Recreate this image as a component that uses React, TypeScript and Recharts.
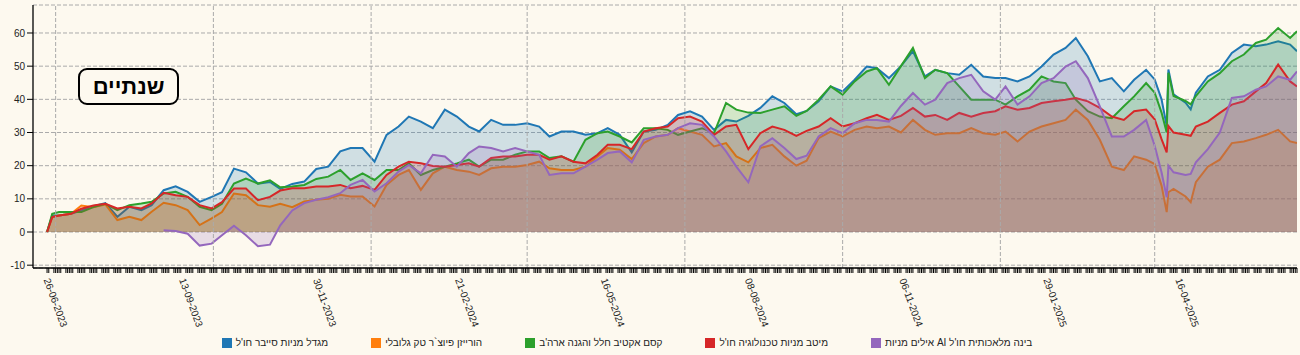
import React from "react";
import {
  AreaChart,
  Area,
  XAxis,
  YAxis,
  CartesianGrid,
  Legend,
  ReferenceLine,
} from "recharts";

// x = days since 21-06-2023 (first NAV date)
const days = [
  0, 3, 7, 14, 20, 27, 34, 41, 48, 55, 61, 68, 75, 82, 89, 96, 102, 109, 116, 123, 130,
  136, 143, 150, 157, 164, 171, 177, 184, 191, 198, 205, 211, 218, 225, 232, 239, 246,
  252, 259, 266, 273, 280, 287, 293, 300, 307, 314, 321, 327, 334, 341, 348, 355, 362,
  368, 375, 382, 389, 396, 402, 409, 416, 423, 430, 437, 443, 450, 457, 464, 471, 478,
  484, 491, 498, 505, 512, 518, 525, 532, 539, 546, 553, 559, 566, 573, 580, 587, 594,
  600, 607, 614, 621, 628, 634, 641, 646, 650, 653, 654, 657, 664, 667, 670, 677, 684,
  691, 698, 705, 711, 718, 725, 729,
];

// % return since start
const migdalCyber = [
  0, 5, 5, 5.5, 6.5, 7.8, 8.7, 4.6, 7.6, 6.6, 8.1, 12.6, 13.8, 12.1, 9.1, 10.6, 12, 19.1, 18, 14.6, 15.1,
  13, 14.5, 15.2, 19, 19.7, 24.3, 25.3, 25.3, 21.2, 29.3, 31.8, 34.8, 33.3, 31.3, 36.9, 34.8, 31.8,
  30.3, 33.8, 32.3, 32.3, 32.8, 31.8, 28.8, 30.3, 30.3, 29.3, 29.8, 31.3, 29.3, 24, 30.3, 30.8, 32.3,
  35.3, 36.4, 34.8, 30.8, 33.8, 33.3, 35, 37.4, 40.9, 38.9, 35.5, 36.5, 39.4, 43.9, 42.4, 45.9, 49.9,
  49.4, 46.4, 50, 54.5, 46.9, 48.9, 47.9, 47.4, 50.4, 46.9, 46.4, 46.4, 45.4, 46.9, 49.9, 53.5, 55.5,
  58.5, 53, 45.4, 46.4, 42.4, 45.9, 48.9, 46, 40, 32, 49, 41.5, 39, 37, 42, 46.9, 48.9,
  54, 56.5, 56, 56.5, 57.5, 56.5, 54.5,
];
const horizonTech = [
  0, 4.5, 5, 5.5, 8, 7.5, 8.3, 3.6, 4.6, 3.6, 6.1, 8.8, 8.1, 6.6, 2.1, 4.1, 6, 11.6, 11.1, 8.1, 7.6,
  8.5, 7.5, 9.2, 9.7, 10, 11.2, 10.7, 10.7, 7.7, 14.2, 17.2, 18.7, 12.7, 17.7, 19.7, 18.7, 18.2,
  17.2, 19.2, 19.7, 19.7, 20.2, 21.2, 19.2, 18.7, 18.7, 19.7, 22.8, 25.3, 24.8, 22, 26.8, 28.8, 29.3,
  31.3, 30.3, 29.3, 25.8, 26.8, 22.8, 21, 25.3, 26.3, 22.8, 20, 21.5, 28.3, 30.3, 28.8, 30.8, 31.8,
  31.3, 31.8, 30, 33.8, 30.8, 29.3, 29.8, 29.8, 31.3, 29.8, 29.3, 30.3, 27.3, 30.3, 31.8, 32.8, 33.8,
  36.9, 33.8, 27.8, 19.7, 18.7, 22.8, 21.8, 20.5, 14, 6, 12, 13, 10.7, 9, 15, 19.7, 21.8,
  26.8, 27.3, 28.3, 29.3, 30.8, 27.3, 26.8,
];
const kesemSpace = [
  0, 5.5, 6, 6, 6, 7.5, 8.5, 6.6, 8.1, 8.6, 9.1, 11.6, 12.1, 10.6, 7.6, 6.6, 8.5, 14.6, 16.1, 14.6, 15.6,
  13.5, 13.7, 14.2, 16, 16.7, 18.7, 15.7, 17.7, 15.7, 18.7, 18.7, 20.7, 17.2, 18.7, 19.7, 20.7, 21.8,
  19.7, 21.8, 21.8, 23.3, 24.3, 24.3, 22.3, 22.8, 21.2, 27.8, 29.8, 30.3, 28.8, 27, 31.3, 31.3, 30.8,
  29.3, 30.3, 31.3, 29.8, 38.9, 36.9, 36, 35.9, 36.9, 37.9, 35, 36.5, 39.9, 43.9, 41.4, 45.4, 48.4,
  49.4, 44.4, 50, 55.5, 46.4, 48.9, 47.9, 43.9, 39.9, 39.9, 39.9, 38.4, 40.9, 42.9, 46.9, 45.4, 44.9,
  39.9, 36.4, 34.8, 34.3, 37.9, 40.9, 44.9, 42, 36, 30, 48, 41, 39.5, 38.5, 41, 45.4, 47.9,
  51.5, 53.5, 57, 58, 61.5, 58.5, 60.5,
];
const meitavTech = [
  0, 4.5, 5, 5.5, 7, 8, 8.5, 7.1, 7.6, 7.1, 8.6, 11.8, 11.1, 10.6, 8.1, 7.1, 9, 13.1, 13.1, 9.6, 10.6,
  12.5, 13.2, 13.2, 13.7, 13.7, 14.2, 13.2, 13.9, 12.7, 17.2, 19.7, 21.2, 20.7, 19.9, 19.7, 20.2, 20.7,
  19.7, 22.3, 22.8, 22.8, 23.3, 23.3, 21.8, 22.8, 21.2, 20.7, 23.3, 26.3, 26.3, 25, 30.3, 31.3, 31.8,
  34.3, 34.8, 33.3, 29.3, 31.8, 32.3, 25, 29.8, 31.8, 30.8, 29, 30.5, 31.8, 34.3, 31.8, 32.8, 34.3,
  35.3, 33.8, 35, 37.4, 34.8, 35.3, 33.8, 35.9, 34.8, 35.9, 36.4, 37.9, 36.9, 37.4, 38.9, 39.4, 39.9,
  40.4, 39.4, 37.4, 34.8, 33.8, 36.4, 36.9, 34, 28, 24, 32, 30, 29.3, 29, 31.8, 33.3, 35.9,
  38.4, 39.4, 42.4, 44.9, 50.5, 45.4, 43.9,
];
const ayalimAi = [
  null, null, null, null, null, null, null, null, null, null, null, 0.5, 0.3, -0.5, -4.1, -3.5, -1, 1.9, -1, -4.3, -3.8,
  2, 6.5, 8.7, 9.7, 10.5, 11.7, 14.2, 15.7, 12.2, 14.7, 18.2, 20.2, 17.7, 23.3, 22.8, 19.7, 23.8,
  25.8, 25.3, 24.3, 25.3, 24.3, 23.3, 17.2, 17.7, 17.7, 19.7, 21.8, 23.8, 24.3, 21, 27.8, 28.8, 29.3,
  31.3, 32.8, 32.3, 28.8, 24.3, 19.7, 15, 25.8, 28.3, 25.3, 22, 23, 28.8, 31.3, 29.8, 32.8, 33.8,
  33.8, 33.3, 38, 41.9, 38.4, 39.9, 44.9, 46.4, 47.4, 42.4, 39.9, 43.9, 38.4, 40.9, 44.9, 46.4, 49.9,
  51.5, 46.4, 37.9, 28.8, 28.8, 30.8, 33.8, 26, 18, 10.5, 20, 18, 17.2, 17.5, 21, 25, 30,
  40.4, 40.9, 42.9, 43.9, 46.9, 45.9, 48.4,
];

const labelDays = [5, 84, 162, 245, 330, 414, 504, 588, 665];
const labelTexts = [
  "26-06-2023", "13-09-2023", "30-11-2023", "21-02-2024", "16-05-2024",
  "08-08-2024", "06-11-2024", "29-01-2025", "16-04-2025",
];
const gridDays = [5, 97, 189, 280, 372, 464, 556, 646];

const series = [
  { key: "cyber", name: "מגדל מניות סייבר חו'ל", color: "#1f77b4", values: migdalCyber },
  { key: "future", name: "הורייזן פיוצ`ר טק גלובלי", color: "#ff7f0e", values: horizonTech },
  { key: "space", name: "קסם אקטיב חלל והגנה ארה'ב", color: "#2ca02c", values: kesemSpace },
  { key: "tech", name: "מיטב מניות טכנולוגיה חו'ל", color: "#d62728", values: meitavTech },
  { key: "ai", name: "בינה מלאכותית חו'ל AI אילים מניות", color: "#9467bd", values: ayalimAi },
];

const rows = days.map((day, i) => {
  const row: Record<string, number | null> = { day };
  series.forEach((s) => (row[s.key] = s.values[i]));
  return row;
});

// trading days Sun-Thu (day 0 is a Wednesday)
const tradingDays: number[] = [];
for (let d = 0; d <= 729; d++) {
  if (d % 7 !== 2 && d % 7 !== 3) tradingDays.push(d);
}

const FONT = "'Liberation Sans', Arial, sans-serif";
const BG = "#fdf9ef";

function DayTick(props: any) {
  const { x, y, payload } = props;
  const idx = labelDays.indexOf(payload.value);
  const cy = y + 34.5;
  return (
    <g>
      <line x1={x} x2={x} y1={y} y2={y + 5} stroke="#000" strokeWidth={1} />
      {idx >= 0 && (
        <text
          x={x}
          y={cy}
          transform={`rotate(70, ${x}, ${cy})`}
          textAnchor="middle"
          dominantBaseline="central"
          fontSize={10}
          fontFamily={FONT}
          fill="#222"
        >
          {labelTexts[idx]}
        </text>
      )}
    </g>
  );
}

export default function App() {
  return (
    <div style={{ position: "absolute", left: 0, top: 0, width: 1300, height: 355, background: BG, fontFamily: FONT }}>
      <AreaChart width={1300} height={355} data={rows} margin={{ top: 5, right: 3, left: 0, bottom: 2 }}>
        <CartesianGrid vertical={false} stroke="#aaa" strokeDasharray="4 2" />
        {gridDays.map((d) => (
          <ReferenceLine key={d} x={d} stroke="#aaa" strokeDasharray="4 2" />
        ))}
        <XAxis
          type="number"
          dataKey="day"
          domain={[-8.2, 729]}
          allowDataOverflow
          ticks={tradingDays}
          interval={0}
          tick={<DayTick />}
          tickLine={false}
          tickSize={0}
          tickMargin={0}
          axisLine={{ stroke: "#000", strokeWidth: 1.3 }}
          height={65}
        />
        <YAxis
          type="number"
          domain={[-10.85, 68.44]}
          allowDataOverflow
          ticks={[-10, 0, 10, 20, 30, 40, 50, 60]}
          width={33}
          tickSize={6}
          tick={{ fontSize: 10, fill: "#222", fontFamily: FONT }}
          axisLine={{ stroke: "#000", strokeWidth: 1.3 }}
          tickLine={{ stroke: "#000" }}
        />
        {series.map((s) => (
          <Area
            key={s.key}
            type="linear"
            dataKey={s.key}
            name={s.name}
            stroke={s.color}
            strokeWidth={2}
            fill={s.color}
            fillOpacity={0.2}
            baseValue={0}
            connectNulls
            dot={false}
            activeDot={false}
            isAnimationActive={false}
          />
        ))}
        <Legend
          verticalAlign="bottom"
          iconType="square"
          iconSize={10}
          itemSorter={(item: any) => series.findIndex((s) => s.key === item.dataKey)}
          wrapperStyle={{ fontSize: 10, height: 20, lineHeight: "20px", fontFamily: FONT }}
          formatter={(value: string) => (
            <span dir="rtl" style={{ color: "#222", marginRight: 33 }}>
              {value}
            </span>
          )}
        />
      </AreaChart>
      <div
        style={{
          position: "absolute",
          left: 78,
          top: 68,
          width: 101,
          height: 37,
          boxSizing: "border-box",
          border: "2px solid #000",
          borderRadius: 9,
          background: BG,
          display: "flex",
          alignItems: "center",
          justifyContent: "center",
          fontWeight: "bold",
          fontSize: 22,
          direction: "rtl",
          color: "#000",
        }}
      >
        שנתיים
      </div>
    </div>
  );
}
